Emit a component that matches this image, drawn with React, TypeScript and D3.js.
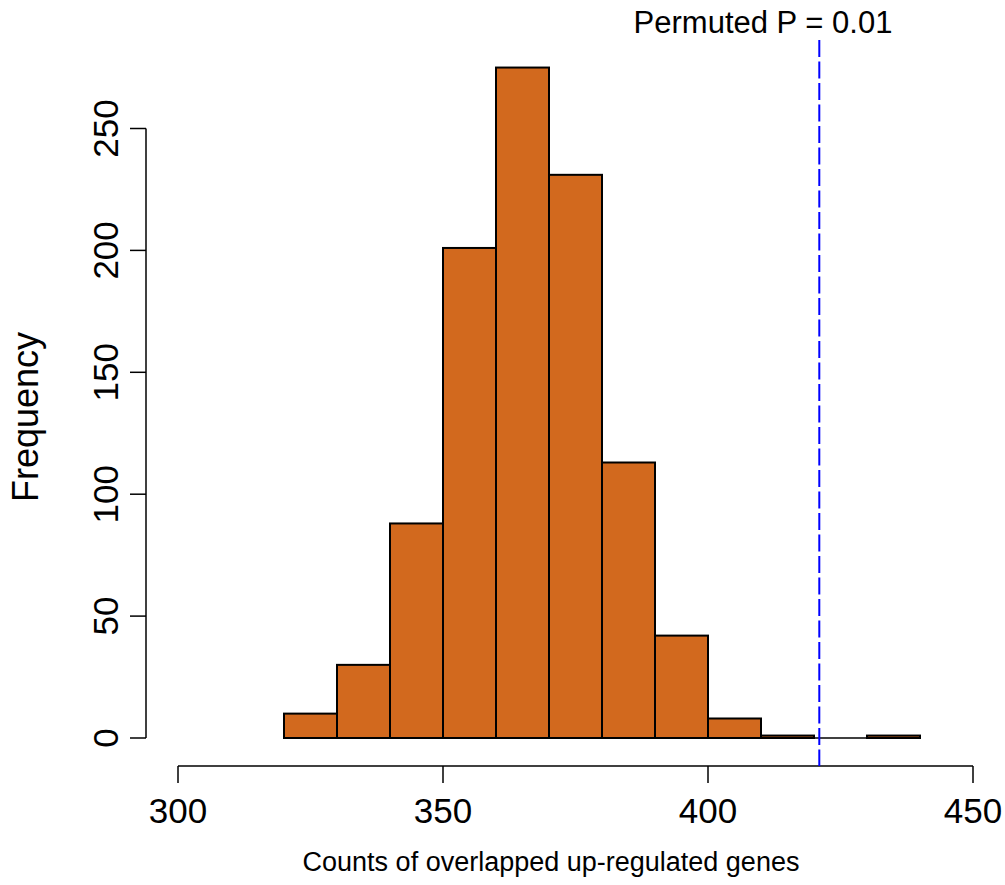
import React from "react";
import * as d3 from "d3";

const binStarts = [320, 330, 340, 350, 360, 370, 380, 390, 400, 410, 420, 430];
const binWidth = 10;
const counts = [10, 30, 88, 201, 275, 231, 113, 42, 8, 1, 0, 1];
const xTicks = [300, 350, 400, 450];
const yTicks = [0, 50, 100, 150, 200, 250];
const observed = 421;
const annotation = "Permuted P = 0.01";
const xLabel = "Counts of overlapped up-regulated genes";
const yLabel = "Frequency";

export default function App() {
  const W = 1005, H = 885;
  const x = d3.scaleLinear().domain([300, 450]).range([178, 973]);
  const y = d3.scaleLinear().domain([0, 250]).range([738, 128.5]);
  const font = "Liberation Sans, Arial, sans-serif";
  return (
    <svg width={W} height={H} style={{ position: "absolute", left: 0, top: 0, background: "#fff" }} fontFamily={font}>
      {binStarts.map((b, i) =>
        counts[i] > 0 ? (
          <rect key={i} x={x(b)} y={y(counts[i])} width={x(b + binWidth) - x(b)} height={y(0) - y(counts[i])}
            fill="#D2691E" stroke="#000" strokeWidth={2} />
        ) : (
          <line key={i} x1={x(b)} x2={x(b + binWidth)} y1={y(0)} y2={y(0)} stroke="#000" strokeWidth={1.5} />
        )
      )}
      {/* y axis */}
      <line x1={146} x2={146} y1={y(0)} y2={y(250)} stroke="#000" strokeWidth={1.5} />
      {yTicks.map(t => (
        <g key={t}>
          <line x1={130} x2={146} y1={y(t)} y2={y(t)} stroke="#000" strokeWidth={1.5} />
          <text transform={`translate(118,${y(t)}) rotate(-90)`} textAnchor="middle" fontSize={35} fill="#000">{t}</text>
        </g>
      ))}
      {/* x axis */}
      <line x1={x(300)} x2={x(450)} y1={766} y2={766} stroke="#000" strokeWidth={1.5} />
      {xTicks.map(t => (
        <g key={t}>
          <line x1={x(t)} x2={x(t)} y1={766} y2={783} stroke="#000" strokeWidth={1.5} />
          <text x={x(t)} y={823} textAnchor="middle" fontSize={35} fill="#000">{t}</text>
        </g>
      ))}
      <line x1={x(observed)} x2={x(observed)} y1={40} y2={766} stroke="#0000FF" strokeWidth={2} strokeDasharray="17,4.5" />
      <text x={763} y={33} textAnchor="middle" fontSize={31} fill="#000">{annotation}</text>
      <text x={551} y={871} textAnchor="middle" fontSize={27} fill="#000">{xLabel}</text>
      <text transform={`translate(38,417) rotate(-90)`} textAnchor="middle" fontSize={36} fill="#000">{yLabel}</text>
    </svg>
  );
}
